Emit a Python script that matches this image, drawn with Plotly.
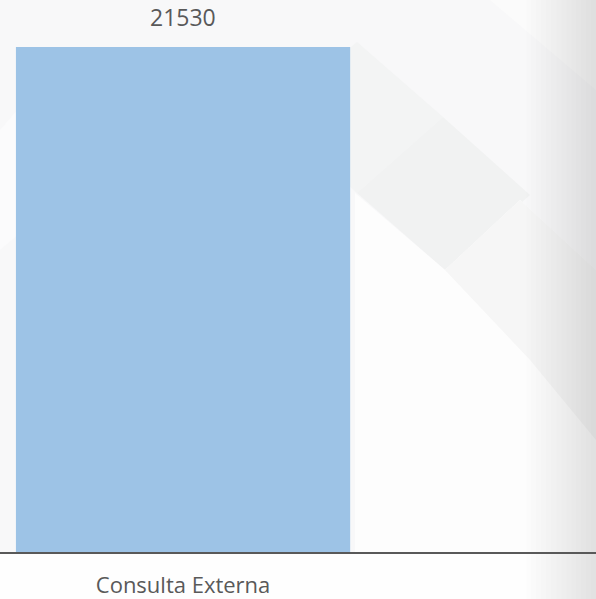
import plotly.graph_objects as go

categories = ["Consulta Externa"]
values = [21530]
bar_color = "#9DC3E6"
text_color = "#595959"

W, H = 596, 599
ML, MR, MT, MB = 0, 0, 47, 47
PW, PH = W - ML - MR, H - MT - MB

fig = go.Figure()
fig.add_trace(go.Bar(
    x=categories, y=values, marker=dict(color=bar_color, line=dict(width=0)),
    width=0.913, hoverinfo="skip", showlegend=False,
))

for c, v in zip(categories, values):
    fig.add_annotation(x=c, y=v, text=str(v), showarrow=False, yanchor="bottom",
                       yshift=12, font=dict(size=23, color=text_color, family="Open Sans"))

def poly(pts, color):
    path = "M " + " L ".join(f"{(x-ML)/PW:.4f},{(H-MB-y)/PH:.4f}" for x, y in pts) + " Z"
    fig.add_shape(type="path", xref="paper", yref="paper", path=path,
                  fillcolor=color, line=dict(width=0), layer="below")

# decorative background
poly([(0, 0), (596, 0), (596, 599), (0, 599)], "#f8f8f9")
poly([(0, 130), (60, 60), (120, 130), (60, 200), (0, 250)], "#fbfbfc")
poly([(357, 42), (443, 117), (357, 193), (300, 140), (300, 90)], "#f3f4f4")
poly([(357, 193), (443, 117), (530, 195), (445, 270)], "#f1f2f2")
poly([(355, 193), (445, 270), (520, 200), (596, 270), (596, 599), (355, 599)], "#fdfdfd")
poly([(445, 270), (520, 200), (596, 270), (596, 440), (530, 360)], "#f6f6f6")
poly([(490, 0), (596, 0), (596, 90)], "#fbfbfb")
poly([(0, 552), (596, 552), (596, 599), (0, 599)], "#fefefe")
# right-edge soft shading (stacked translucent strips)
n = 14
x0 = 526
step = (596 - x0) / n
for i in range(n):
    xa = x0 + i * step
    poly([(xa, 0), (596, 0), (596, 599), (xa, 599)], "rgba(0,0,0,0.008)")

fig.update_layout(
    width=W, height=H,
    margin=dict(l=ML, r=MR, t=MT, b=MB, autoexpand=False),
    paper_bgcolor="#f8f8f9", plot_bgcolor="rgba(0,0,0,0)",
    font=dict(family="Open Sans", color=text_color),
    xaxis=dict(range=[-0.5, 1.128], showgrid=False, zeroline=False, automargin=False,
               showline=True, linecolor="#595959", linewidth=1.5,
               ticks="", tickfont=dict(size=22, color=text_color), ticklabelstandoff=13),
    yaxis=dict(range=[0, 21530], visible=False, showgrid=False, zeroline=False,
               automargin=False),
)

fig.write_html("out.html", config={"displayModeBar": False},
               post_script="document.body.style.margin='0';document.body.style.overflow='hidden';")
